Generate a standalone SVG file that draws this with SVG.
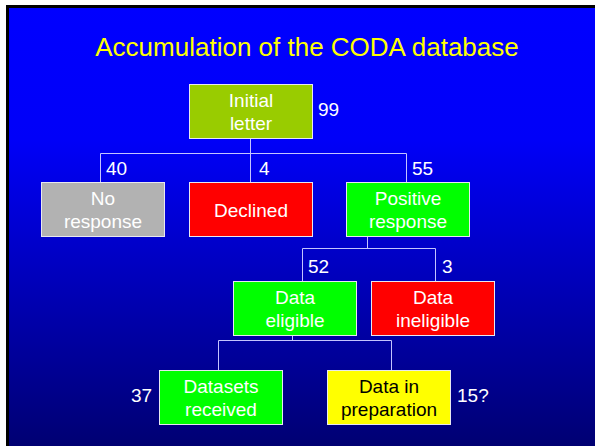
<svg xmlns="http://www.w3.org/2000/svg" width="596" height="446" viewBox="0 0 596 446">
<defs>
<linearGradient id="bg" x1="0" y1="8" x2="0" y2="446" gradientUnits="userSpaceOnUse">
<stop offset="0" stop-color="#0000FF"/>
<stop offset="0.3" stop-color="#0000F8"/>
<stop offset="1" stop-color="#000072"/>
</linearGradient>
<style>
.box{stroke:#E8E8F0;stroke-width:1}
.t{font-family:"Liberation Sans",Arial,sans-serif;font-size:19px;fill:#FFFFFF;text-anchor:middle}
.n{font-family:"Liberation Sans",Arial,sans-serif;font-size:19px;fill:#FFFFFF}
.c{stroke:#C4C4FF;stroke-width:1;fill:none}
</style>
</defs>
<rect x="0" y="0" width="596" height="446" fill="#FFFFFF"/>
<rect x="6" y="5" width="589" height="441" fill="#000000"/>
<rect x="9" y="8" width="586" height="438" fill="url(#bg)"/>
<text x="307" y="56" font-family="'Liberation Sans',Arial,sans-serif" font-size="26" fill="#FFFF00" text-anchor="middle">Accumulation of the CODA database</text>
<g id="connectors">
<path class="c" d="M250.5 139 V182 M100.5 182 V153.5 H406.5 V182"/>
<path class="c" d="M367.5 237 V248.5 M302.5 281 V248.5 H435.5 V281"/>
<path class="c" d="M292.5 336 V340.5 M218.5 370 V340.5 H391.5 V370"/>
</g>
<g id="initial">
<rect class="box" x="189.5" y="84.5" width="123" height="54" fill="#99CC00"/>
<text class="t" x="251" y="107">Initial</text>
<text class="t" x="251" y="130">letter</text>
<text class="n" x="318" y="116">99</text>
</g>
<g id="noresponse">
<rect class="box" x="41.5" y="182.5" width="123" height="54" fill="#B2B2B2"/>
<text class="t" x="103" y="205">No</text>
<text class="t" x="103" y="228">response</text>
<text class="n" x="106" y="175">40</text>
</g>
<g id="declined">
<rect class="box" x="189.5" y="182.5" width="123" height="54" fill="#FF0000"/>
<text class="t" x="251" y="217">Declined</text>
<text class="n" x="259" y="175">4</text>
</g>
<g id="positive">
<rect class="box" x="346.5" y="182.5" width="123" height="54" fill="#00FF00"/>
<text class="t" x="408" y="205">Positive</text>
<text class="t" x="408" y="228">response</text>
<text class="n" x="412" y="175">55</text>
</g>
<g id="eligible">
<rect class="box" x="233.5" y="281.5" width="123" height="54" fill="#00FF00"/>
<text class="t" x="295" y="304">Data</text>
<text class="t" x="295" y="327">eligible</text>
<text class="n" x="308" y="273">52</text>
</g>
<g id="ineligible">
<rect class="box" x="371.5" y="281.5" width="123" height="54" fill="#FF0000"/>
<text class="t" x="433" y="304">Data</text>
<text class="t" x="433" y="327">ineligible</text>
<text class="n" x="442" y="273">3</text>
</g>
<g id="received">
<rect class="box" x="159.5" y="370.5" width="123" height="54" fill="#00FF00"/>
<text class="t" x="221" y="393">Datasets</text>
<text class="t" x="221" y="416">received</text>
<text class="n" x="131" y="402">37</text>
</g>
<g id="preparation">
<rect class="box" x="327.5" y="370.5" width="123" height="54" fill="#FFFF00"/>
<text class="t" x="389" y="393" fill="#000000" style="fill:#000000">Data in</text>
<text class="t" x="389" y="416" style="fill:#000000">preparation</text>
<text class="n" x="457" y="402">15?</text>
</g>
</svg>
